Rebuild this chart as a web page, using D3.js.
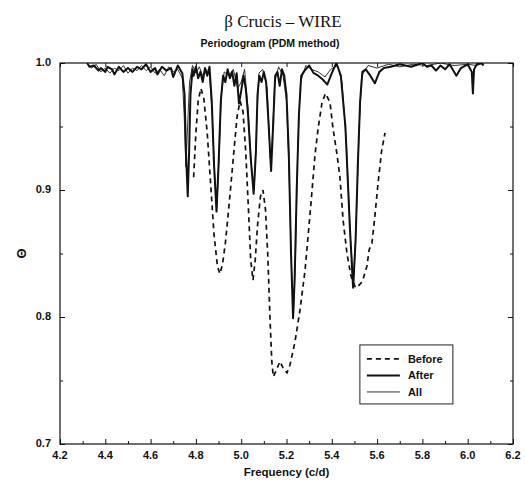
<!DOCTYPE html>
<html>
<meta charset="utf-8">
<title>beta Crucis - WIRE</title>
<style>
  body { margin: 0; background: #fff; }
  .tick-lbl { font-family: "Liberation Sans", Arial, sans-serif; font-weight: bold; font-size: 11px; fill: #111; }
  .frame { fill: none; stroke: #111; stroke-width: 1.2; }
  .before { fill: none; stroke: #111; stroke-width: 1.7; stroke-dasharray: 5,4; }
  .after { fill: none; stroke: #111; stroke-width: 2; stroke-linejoin: round; }
  .all { fill: none; stroke: #333; stroke-width: 1; stroke-linejoin: round; }
</style>
<body>
<script src="https://d3js.org/d3.v7.min.js"></script>
<script>
// Periodogram values: [frequency c/d, theta]
var before = [
  [4.790,0.910],[4.800,0.945],[4.810,0.970],[4.822,0.980],[4.835,0.972],[4.850,0.945],
  [4.865,0.905],[4.880,0.865],[4.895,0.840],[4.906,0.834],[4.918,0.842],[4.930,0.858],
  [4.942,0.880],[4.955,0.905],[4.970,0.935],[4.982,0.958],[4.995,0.970],[5.008,0.962],
  [5.020,0.930],[5.032,0.885],[5.042,0.845],[5.052,0.829],[5.062,0.845],[5.072,0.872],
  [5.085,0.895],[5.096,0.900],[5.107,0.885],[5.117,0.850],[5.127,0.800],[5.135,0.765],
  [5.142,0.753],[5.155,0.758],[5.171,0.765],[5.185,0.760],[5.202,0.756],[5.215,0.762],
  [5.237,0.780],[5.260,0.806],[5.282,0.837],[5.295,0.863],[5.313,0.900],[5.326,0.928],
  [5.340,0.949],[5.357,0.969],[5.372,0.976],[5.392,0.969],[5.405,0.949],[5.423,0.928],
  [5.436,0.910],[5.450,0.876],[5.467,0.850],[5.485,0.832],[5.505,0.823],[5.520,0.825],
  [5.535,0.828],[5.555,0.840],[5.565,0.853],[5.577,0.858],[5.590,0.879],[5.604,0.905],
  [5.620,0.931],[5.635,0.945]
];

var after = [
  [4.320,1.000],[4.330,0.997],[4.350,0.998],[4.370,0.994],[4.380,0.996],[4.400,0.993],
  [4.410,0.997],[4.430,0.995],[4.440,0.991],[4.460,0.997],[4.480,0.993],[4.500,0.996],
  [4.520,0.993],[4.540,0.997],[4.560,0.995],[4.580,0.999],[4.600,0.993],[4.620,0.996],
  [4.630,0.991],[4.650,0.997],[4.670,0.994],[4.690,0.996],[4.700,0.989],[4.720,0.998],
  [4.740,0.992],[4.750,0.975],[4.756,0.930],[4.764,0.895],[4.770,0.930],[4.776,0.975],
  [4.785,0.995],[4.790,0.990],[4.800,0.997],[4.810,0.988],[4.820,0.993],[4.830,0.985],
  [4.840,0.996],[4.850,0.990],[4.860,0.997],[4.870,0.970],[4.880,0.920],[4.891,0.883],
  [4.900,0.920],[4.910,0.970],[4.920,0.990],[4.930,0.985],[4.940,0.995],[4.950,0.988],
  [4.960,0.993],[4.970,0.982],[4.980,0.992],[4.990,0.968],[5.000,0.978],[5.010,0.990],
  [5.020,0.980],[5.030,0.960],[5.042,0.925],[5.055,0.897],[5.065,0.930],[5.072,0.975],
  [5.080,0.990],[5.090,0.985],[5.100,0.993],[5.110,0.985],[5.120,0.955],[5.132,0.915],
  [5.142,0.955],[5.150,0.990],[5.160,0.993],[5.170,0.982],[5.180,0.995],[5.190,0.990],
  [5.200,0.975],[5.210,0.930],[5.220,0.850],[5.229,0.799],[5.236,0.830],[5.245,0.900],
  [5.255,0.960],[5.265,0.990],[5.280,0.994],[5.300,0.998],[5.320,0.992],[5.340,0.990],
  [5.360,0.987],[5.380,0.983],[5.400,0.992],[5.420,1.000],[5.440,0.990],[5.460,0.950],
  [5.480,0.870],[5.494,0.823],[5.505,0.860],[5.515,0.920],[5.525,0.970],[5.535,0.993],
  [5.550,0.995],[5.570,0.990],[5.590,0.984],[5.610,0.993],[5.630,0.996],[5.660,0.997],
  [5.700,0.999],[5.750,0.997],[5.800,1.000],[5.820,0.997],[5.840,0.998],[5.860,0.994],
  [5.880,0.998],[5.900,0.995],[5.920,0.999],[5.950,0.990],[5.970,0.996],[6.000,0.999],
  [6.018,0.993],[6.023,0.976],[6.028,0.995],[6.040,0.999],[6.060,1.000],[6.070,0.998]
];

var all = [
  [4.320,0.999],[4.340,0.996],[4.360,0.999],[4.380,0.993],[4.400,0.996],[4.420,0.992],
  [4.440,0.996],[4.460,0.994],[4.480,0.998],[4.500,0.992],[4.520,0.996],[4.540,0.994],
  [4.560,0.998],[4.580,0.994],[4.600,0.997],[4.620,0.992],[4.640,0.995],[4.660,0.990],
  [4.680,0.997],[4.700,0.993],[4.720,0.995],[4.740,0.988],[4.748,0.960],[4.756,0.918],
  [4.762,0.945],[4.772,0.985],[4.785,0.998],[4.800,0.992],[4.815,0.997],[4.830,0.990],
  [4.845,0.995],[4.860,0.990],[4.872,0.960],[4.882,0.915],[4.892,0.886],[4.902,0.925],
  [4.912,0.975],[4.925,0.993],[4.945,0.990],[4.965,0.995],[4.985,0.980],[5.000,0.985],
  [5.015,0.995],[5.030,0.965],[5.045,0.920],[5.057,0.900],[5.068,0.950],[5.078,0.992],
  [5.095,0.995],[5.115,0.980],[5.128,0.925],[5.136,0.935],[5.148,0.985],[5.165,0.997],
  [5.185,0.990],[5.200,0.970],[5.212,0.910],[5.222,0.840],[5.231,0.803],[5.240,0.850],
  [5.250,0.935],[5.262,0.985],[5.285,0.998],[5.310,0.995],[5.340,0.993],[5.370,0.989],
  [5.395,0.995],[5.425,0.998],[5.445,0.985],[5.465,0.935],[5.483,0.860],[5.496,0.826],
  [5.508,0.875],[5.520,0.945],[5.532,0.990],[5.560,0.998],[5.600,0.996],[5.650,0.999],
  [5.700,0.997],[5.760,0.999],[5.820,0.998],[5.880,1.000],[5.940,0.998],[6.000,0.999],
  [6.040,0.998],[6.070,1.000]
];

var xTicks = [4.2, 4.4, 4.6, 4.8, 5.0, 5.2, 5.4, 5.6, 5.8, 6.0, 6.2];
var yTicks = [0.7, 0.8, 0.9, 1.0];
var legendItems = ["Before", "After", "All"];

var W = 525, H = 481;
var margin = {top: 63, right: 12, bottom: 37, left: 60};
var width = W - margin.left - margin.right,
    height = H - margin.top - margin.bottom;

var svg = d3.select("body").append("svg")
    .attr("width", W)
    .attr("height", H);

var x = d3.scaleLinear().domain([4.2, 6.2]).range([0, width]);
var y = d3.scaleLinear().domain([0.7, 1.0]).range([height, 0]);

var g = svg.append("g").attr("transform", "translate(" + margin.left + "," + margin.top + ")");

// clip so the curves stay inside the frame
g.append("clipPath").attr("id", "clip")
  .append("rect").attr("width", width).attr("height", height);

// minor + major ticks, all pointing inward
var xMinor = d3.range(4.3, 6.2, 0.2);
var yMinor = [0.75, 0.85, 0.95];

g.append("g")
    .attr("transform", "translate(0," + height + ")")
    .call(d3.axisTop(x).tickValues(xTicks).tickSize(5).tickFormat(""))
    .call(function(a) { a.select(".domain").remove(); });
g.append("g")
    .attr("transform", "translate(0," + height + ")")
    .call(d3.axisTop(x).tickValues(xMinor).tickSize(3).tickFormat(""))
    .call(function(a) { a.select(".domain").remove(); });
g.append("g")
    .call(d3.axisBottom(x).tickValues(xTicks).tickSize(4).tickFormat(""))
    .call(function(a) { a.select(".domain").remove(); });

g.append("g")
    .call(d3.axisRight(y).tickValues(yTicks).tickSize(5).tickFormat(""))
    .call(function(a) { a.select(".domain").remove(); });
g.append("g")
    .call(d3.axisRight(y).tickValues(yMinor).tickSize(3).tickFormat(""))
    .call(function(a) { a.select(".domain").remove(); });
g.append("g")
    .attr("transform", "translate(" + width + ",0)")
    .call(d3.axisLeft(y).tickValues(yTicks).tickSize(5).tickFormat(""))
    .call(function(a) { a.select(".domain").remove(); });
g.append("g")
    .attr("transform", "translate(" + width + ",0)")
    .call(d3.axisLeft(y).tickValues(yMinor).tickSize(3).tickFormat(""))
    .call(function(a) { a.select(".domain").remove(); });

g.selectAll(".tick line").attr("stroke", "#111").attr("stroke-width", 1);

// tick labels
g.selectAll(".xl").data(xTicks).enter().append("text")
    .attr("class", "tick-lbl")
    .attr("x", function(d) { return x(d); })
    .attr("y", height + 15)
    .attr("text-anchor", "middle")
    .text(function(d) { return d.toFixed(1); });

g.selectAll(".yl").data(yTicks).enter().append("text")
    .attr("class", "tick-lbl")
    .attr("x", -9)
    .attr("y", function(d) { return y(d) + 3; })
    .attr("text-anchor", "end")
    .text(function(d) { return d.toFixed(1); });

var line = d3.line()
    .x(function(d) { return x(d[0]); })
    .y(function(d) { return y(d[1]); });

var curves = g.append("g").attr("clip-path", "url(#clip)");
curves.append("path").datum(before).attr("class", "before").attr("d", line);
curves.append("path").datum(all).attr("class", "all").attr("d", line);
curves.append("path").datum(after).attr("class", "after").attr("d", line);

g.append("rect").attr("class", "frame").attr("width", width).attr("height", height);

// titles
svg.append("text")
    .attr("x", 283).attr("y", 27)
    .attr("text-anchor", "middle")
    .style("font-family", "'Liberation Serif', 'Times New Roman', serif")
    .style("font-size", "17px")
    .style("fill", "#111")
    .text("\u03B2 Crucis \u2013 WIRE");

svg.append("text")
    .attr("x", 270).attr("y", 47)
    .attr("text-anchor", "middle")
    .attr("class", "tick-lbl")
    .style("font-size", "10.5px")
    .text("Periodogram (PDM method)");

svg.append("text")
    .attr("x", margin.left + width / 2).attr("y", 476)
    .attr("text-anchor", "middle")
    .attr("class", "tick-lbl")
    .style("font-size", "11.5px")
    .text("Frequency (c/d)");

svg.append("text")
    .attr("transform", "translate(26," + (margin.top + y(0.85)) + ") rotate(-90)")
    .attr("text-anchor", "middle")
    .attr("class", "tick-lbl")
    .style("font-size", "13px")
    .text("\u0398");

// legend (box sits in the lower right part of the plot)
var lg = g.append("g").attr("transform", "translate(" + x(5.524) + "," + y(0.778) + ")");
lg.append("rect").attr("width", 93).attr("height", 59)
    .attr("fill", "#fff").attr("stroke", "#222").attr("stroke-width", 1);
var legClass = ["before", "after", "all"];
legendItems.forEach(function(name, i) {
  var yy = 14 + i * 16.5;
  lg.append("line").attr("class", legClass[i])
    .attr("x1", 7).attr("x2", 40).attr("y1", yy).attr("y2", yy);
  lg.append("text").attr("class", "tick-lbl")
    .attr("x", 48).attr("y", yy + 4)
    .text(name);
});
</script>
</body>
</html>
